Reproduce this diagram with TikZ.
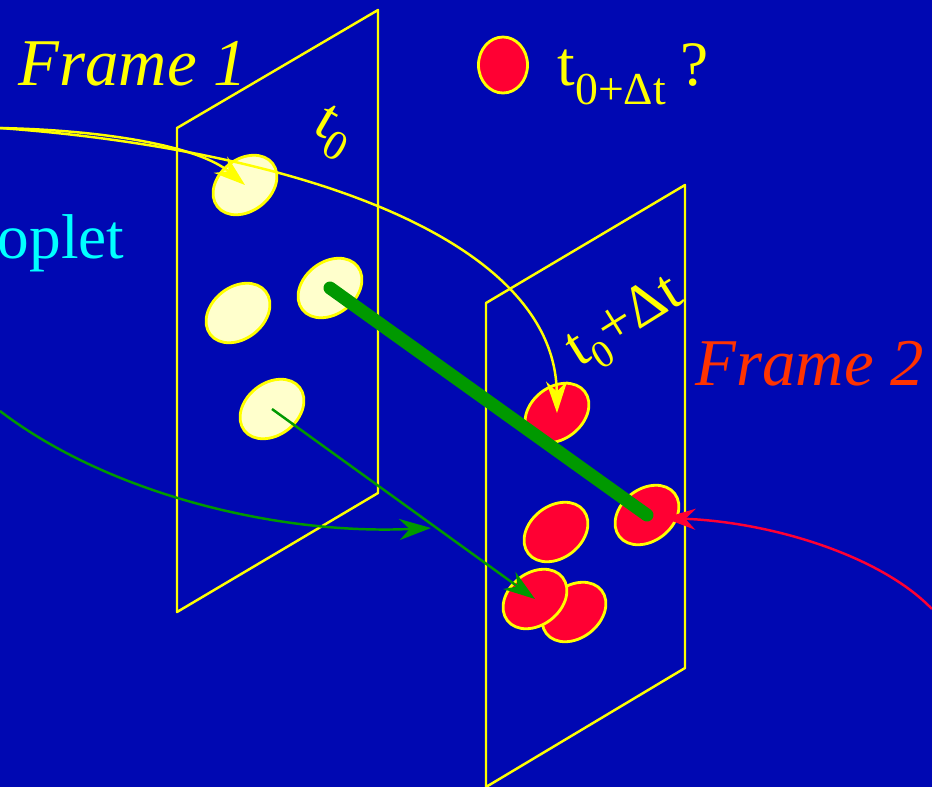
\documentclass[tikz,border=0pt]{standalone}
\usepackage{fontspec}
\setmainfont{Liberation Serif}
\usetikzlibrary{shapes.geometric,arrows.meta}
\definecolor{bgblue}{HTML}{0008B2}
\definecolor{lineyellow}{HTML}{FFFF00}
\definecolor{dropcream}{HTML}{FFFFCC}
\definecolor{dropred}{HTML}{FF0033}
\definecolor{framered}{HTML}{FF3300}
\definecolor{dropcyan}{HTML}{00FFFF}
\definecolor{trackgreen}{HTML}{009900}
\tikzset{
  plane/.style={lineyellow,line width=0.7pt,line join=round},
  drop/.style={ellipse,draw=lineyellow,line width=0.8pt,inner sep=0pt},
  tilted/.style={drop,minimum width=0.70cm,minimum height=0.52cm,rotate=38},
  olddrop/.style={tilted,fill=dropcream},
  newdrop/.style={tilted,fill=dropred},
  txt/.style={inner sep=0pt,anchor=base west},
  track/.style={line width=0.7pt,->}
}
\begin{document}
\begin{tikzpicture}[x=0.01cm,y=-0.01cm,>={Stealth[length=9pt,width=6pt]}]
  \useasboundingbox (0,0) rectangle (932,787);
  \fill[bgblue] (0,0) rectangle (932,787);
  % image planes
  \draw[plane] (177,128) -- (378,10) -- (378,493) -- (177,612) -- cycle;
  \draw[plane] (486,303) -- (685,185) -- (685,668) -- (486,787) -- cycle;
  % droplets at t0
  \node[olddrop] (e1) at (245,185) {};
  \node[olddrop] (e2) at (238,313) {};
  \node[olddrop] (e3) at (330,288) {};
  \node[olddrop] (e4) at (272,409) {};
  % droplets at t0+dt
  \node[newdrop] (r1) at (557,413) {};
  \node[newdrop] (r2) at (556,532) {};
  \node[newdrop] (r3) at (647,515) {};
  \node[newdrop] (r4) at (574,612) {};
  \node[newdrop] (r5) at (535,599) {};
  % legend
  \node[drop,fill=dropred,minimum width=0.49cm,minimum height=0.56cm] (key) at (503,65) {};
  \node[txt,lineyellow,font=\fontsize{18}{18}\selectfont] (keytxt) at (557,85)
    {t\raisebox{-5.5pt}{\fontsize{13}{13}\selectfont 0+Δt}\hspace{4pt}?};
  % labels
  \node[txt,lineyellow,font=\fontsize{19}{19}\selectfont\itshape] (f1) at (18,85) {Frame 1};
  \node[txt,framered,font=\fontsize{19}{19}\selectfont\itshape] (f2) at (695,385) {Frame 2};
  \node[txt,dropcyan,font=\fontsize{18}{18}\selectfont] (dl) at (-3,258) {oplet};
  \node[lineyellow,rotate=-30,inner sep=0pt,font=\fontsize{17}{17}\selectfont] (lab1) at (333,133)
    {t\raisebox{-4pt}{\fontsize{12}{12}\selectfont 0}};
  \node[lineyellow,rotate=32,inner sep=0pt,font=\fontsize{17}{17}\selectfont] (lab2) at (626,324)
    {t\raisebox{-4pt}{\fontsize{11}{11}\selectfont 0}+Δt};
  % tracks
  \coordinate (yin) at (0,128);
  \coordinate (gin) at (0,411);
  \coordinate (gend) at (431,528);
  \coordinate (rin) at (932,609);
  \coordinate (rtip) at (664,518);
  \draw[track,lineyellow] (yin) .. controls (300,150) and (555,240) .. (r1.center);
  \draw[track,lineyellow] (yin) .. controls (100,130) and (197,145) .. (e1.center);
  \draw[track,trackgreen] (gin) .. controls (110,495) and (280,535) .. (gend);
  \draw[track,trackgreen] (e4.center) -- (r5.center);
  \draw[trackgreen,line width=3.7pt,line cap=round] (e3.center) -- (r3.center);
  \draw[track,dropred] (rin) .. controls (880,555) and (770,522) .. (rtip);
\end{tikzpicture}
\end{document}
